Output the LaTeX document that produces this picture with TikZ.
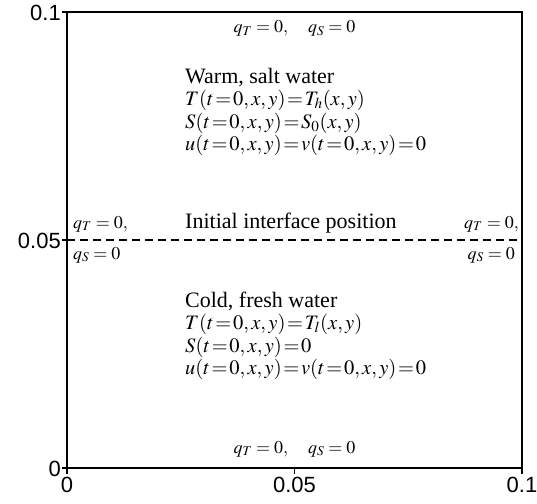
\documentclass[tikz,border=0pt]{standalone}
\usepackage{mathptmx}
\usepackage[no-math]{fontspec}
\setmainfont{Liberation Serif}
\newfontfamily\axisfont{Liberation Sans}
\newcommand{\tightrel}{\thickmuskip=1.5mu\relax}
\begin{document}
\begin{tikzpicture}[x=1pt,y=-1pt,
  txt/.style={inner sep=0pt,anchor=base west,font=\fontsize{22}{24}\selectfont},
  eq/.style={inner sep=0pt,anchor=base west,font=\fontsize{20.5}{23}\selectfont\tightrel},
  qlab/.style={inner sep=0pt,font=\fontsize{18}{20}\selectfont},
  ax/.style={inner sep=0pt,font=\axisfont\fontsize{22}{24}\selectfont},
  border/.style={line width=1.6pt},
  tick/.style={line width=1.2pt}]
\useasboundingbox (0,0) rectangle (537,503);
% box corners
\coordinate (tl) at (67,12);
\coordinate (br) at (522,468);
\coordinate (ml) at (67,240);
\coordinate (mr) at (522,240);
\draw[border] (tl) rectangle (br);
\draw[dashed,line width=1.1pt,dash pattern=on 8pt off 5pt] (ml) -- (mr);
% ticks
\coordinate (ty1) at (62,12);
\coordinate (ty2) at (62,240);
\coordinate (ty3) at (62,468);
\coordinate (bl) at (67,468);
\draw[tick] (ty1) -- (tl);
\draw[tick] (ty2) -- (ml);
\draw[tick] (ty3) -- (bl);
\coordinate (bx1e) at (67,474);
\coordinate (bx2) at (294.5,468); \coordinate (bx2e) at (294.5,474);
\coordinate (bx3) at (522,468); \coordinate (bx3e) at (522,474);
\draw[tick] (bl) -- (bx1e);
\draw[tick] (bx2) -- (bx2e);
\draw[tick] (bx3) -- (bx3e);
% axis labels
\node[ax,anchor=east] (ly1) at (61,13) {0.1};
\node[ax,anchor=east] (ly2) at (61,241) {0.05};
\node[ax,anchor=east] (ly3) at (61,469) {0};
\node[ax,anchor=north] (lx1) at (67,477) {0};
\node[ax,anchor=north] (lx2) at (294.5,477) {0.05};
\node[ax,anchor=north] (lx3) at (522,477) {0.1};
% boundary conditions
\node[qlab,anchor=base] (qtop) at (294.5,33) {$q_T=0,\quad q_S=0$};
\node[qlab,anchor=base] (qbot) at (294.5,453) {$q_T=0,\quad q_S=0$};
\node[qlab,anchor=base west] (qlt) at (73,228) {$q_T=0,$};
\node[qlab,anchor=base west] (qls) at (73,259) {$q_S=0$};
\node[qlab,anchor=base east] (qrt) at (519,228) {$q_T=0,$};
\node[qlab,anchor=base east] (qrs) at (515,259) {$q_S=0$};
% upper layer
\node[txt] (w1) at (185,83) {Warm, salt water};
\node[eq] (w2) at (185,105.5) {$T(t=0, x, y)=T_h(x, y)$};
\node[eq] (w3) at (185,128) {$S(t=0, x, y)=S_0(x, y)$};
\node[eq] (w4) at (185,150.5) {$u(t=0, x, y)=v(t=0, x, y)=0$};
% interface
\node[txt] (ip) at (185,228) {Initial interface position};
% lower layer
\node[txt] (c1) at (185,307) {Cold, fresh water};
\node[eq] (c2) at (185,329.5) {$T(t=0, x, y)=T_l(x, y)$};
\node[eq] (c3) at (185,352) {$S(t=0, x, y)=0$};
\node[eq] (c4) at (185,374.5) {$u(t=0, x, y)=v(t=0, x, y)=0$};
\end{tikzpicture}
\end{document}
